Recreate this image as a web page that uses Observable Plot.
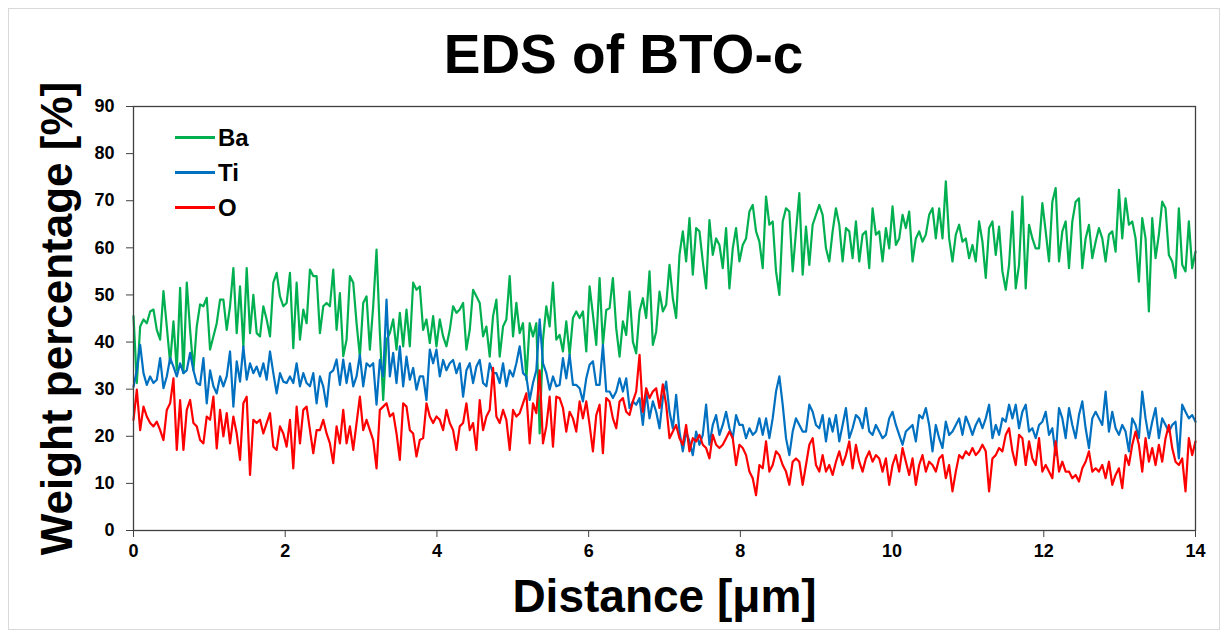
<!DOCTYPE html>
<html><head><meta charset="utf-8">
<script src="https://cdn.jsdelivr.net/npm/d3@7"></script>
<script src="https://cdn.jsdelivr.net/npm/@observablehq/plot@0.6"></script>
<style>
html,body{margin:0;padding:0;background:#fff;}
#wrap{position:relative;width:1228px;height:638px;overflow:hidden;font-family:"Liberation Sans",Arial,sans-serif;}
#border{position:absolute;left:8px;top:8px;width:1212px;height:622px;border:1px solid #d9d9d9;box-sizing:border-box;}
#chart{position:absolute;left:0;top:0;}
#legend{position:absolute;left:175px;top:120px;}
.item{display:flex;align-items:center;height:35px;font-weight:bold;font-size:24px;color:#000;}
.swatch{width:40px;height:2.4px;margin-right:3px;}
</style></head><body>
<div id="wrap"><div id="border"></div><div id="chart"></div><div id="legend"></div></div>
<script>
const title = "EDS of BTO-c";
const xTitle = "Distance [μm]";
const yTitle = "Weight percentage [%]";
const xTicks = [0, 2, 4, 6, 8, 10, 12, 14];
const yTicks = [0, 10, 20, 30, 40, 50, 60, 70, 80, 90];
const elements = ["Ba", "Ti", "O"];
const colors = ["#00b050", "#0070c0", "#ff0000"];
const xMax = 14;

const baValues = [
45.5,31.3,43.3,44.8,44,46.5,46.9,42.6,40.5,50.8,43.3,35.5,44.4,34,51.5,33.4,52.6,42.6,34,43.3,48,47.6,49.4,38.4,41.2,44,49,49,42.6,47.6,55.7,41.9,51.8,39,55.7,41.9,50,41.9,41.2,47.6,44.8,41.2,52.6,54.7,49.7,47.6,48.3,54.7,38.7,52.6,40.5,46.9,44,55.4,54,54,41.9,47.6,48.3,47.6,55.4,42.6,50.4,37,
40.5,54,52.6,44,36.9,48.3,49.7,38.4,47.6,59.6,41.9,27.7,40.5,41.9,44.8,38.4,46.2,39.1,46.9,39.1,52.6,51.1,51.8,42.6,44.8,39.8,45.5,39.1,44.8,41.2,39.1,42.6,47.6,46.2,46.9,48.3,38.4,42.6,51.1,49.7,48.3,41.2,43.3,36.9,45.5,49,36.9,43.3,44.8,54,41.2,48.3,41.9,44,32,44,41.2,44,20.6,40.5,47.6,43.3,52.6,40.5,
41.5,38,44.4,37.3,45.1,46.5,45.1,46.5,38,51.8,45.8,39.4,53.6,39.4,46.8,47.2,53.6,42.9,36.9,44.4,41.5,50.7,40.1,37.6,46.5,49.3,45.1,55,39.4,42.2,50.7,46.5,47.9,56.4,49.3,45.1,58.5,63.5,57.1,66.3,54.3,64.2,63.5,57.1,51.4,65.9,58.5,62,60.6,55.7,64.2,51.4,59.9,64.2,57.1,60.6,62,67.7,69.1,63.5,61.3,55.7,70.9,64.9,
65.6,55,50,65.6,68.4,67.7,55,63.5,71.6,54.3,64.5,56.4,64.9,67,69.1,67,59.9,57.1,63.5,68.4,64.9,57.1,64.2,63.5,57.8,65.6,57.1,62.8,63.5,55.7,68.4,62.8,63.5,57.1,64.2,59.9,68.8,60.6,62,67,64.2,67.7,57.1,62,63.5,61.3,62.8,67,68.4,62,68.4,62,74.1,62,57.1,62.8,64.9,61.3,62,57.8,60.6,57.1,65.6,61.3,
53.6,64.2,65.6,58.5,64.5,55,51.1,56.4,67.7,51.4,56.4,70.9,51.4,64.9,62,59.9,59.9,69.5,63.5,57.1,69.8,72.7,57.1,63.5,65.6,55.7,65.6,69.8,70.5,55.7,62,64.9,57.8,61.3,64.2,62,57.1,62.8,63.5,59.2,72.3,62,70.5,64.9,65.6,62,52.8,66.3,62,46.5,66.3,57.8,62.8,69.8,68.4,58.5,57.1,53.6,68.4,56.4,55,65.6,55.7,59.2
];

const tiValues = [
30.5,34,39.4,33.4,30.9,32.7,31.3,32,36.6,30.2,32.7,36.6,34.8,32.7,35.5,33.4,34,37.7,34,31.3,30.9,36.6,27,34,30.6,29.1,32.7,30.6,32.7,38,26.3,35.9,31.6,39.1,32,35.5,33.4,34.8,32.7,35.5,32,38,33.4,29.1,33.4,31.6,31.3,32.7,31.3,35.5,30.6,33.4,31.3,30.6,33.4,27,32.7,30.6,26.3,33.4,34,36.3,30.9,36.3,
31.3,35.5,30.6,32.7,37.3,30.6,35.5,34.8,35.5,26.7,36.2,32.7,49,32.7,37.7,31.3,39.1,30.6,36.9,32,34.5,29.9,32.7,32.7,27.7,38.4,35.5,38.4,32.7,36.2,34,35.5,36.2,33.4,35.5,28.4,34,35.5,31.3,34.8,36.2,31.3,30.6,35.5,33.4,33.4,31.3,35.5,30.6,34,32.7,35.5,39.1,33.4,32.7,27.7,31.3,34,44.8,35.5,33.4,29.9,32.7,30.6,
30.9,36.6,32.3,37.3,30.9,30.9,30.2,27.4,32.3,35.2,35.9,30.9,30.9,39.4,29.5,29.5,28.1,29.5,32.3,29.5,32.3,26,27.4,26.7,28.1,22.4,29.5,23.8,27.4,25.2,21.7,28.1,31.6,25.2,21.7,28.8,21,16.8,21,18.9,16,21,18.2,20.3,26.7,18.2,22.4,24.5,20.3,22.4,25.2,21.7,19.6,24.5,22.4,22.4,19.6,21.7,20.3,21,23.8,20.3,23.8,19.6,
23.8,29.5,32.7,26.7,19.6,16,21,23.8,22.4,21,21,26.7,25.2,22.4,21.7,24.5,18.9,23.8,21,24.5,18.9,22.4,26,19.6,21.7,24.5,23.8,21.7,26,21,20.3,22.4,21,19.6,20.3,23.8,25.2,22.4,20.3,18.2,21,21.7,22.4,18.9,24.5,23.8,26,22.4,16.8,22.4,19.6,17.5,23.1,20.3,21,22.4,23.8,20.3,24.2,22.4,20.3,22.4,23.8,21.7,
23.8,26.7,19.6,22.4,20.3,23.8,23.1,26.7,23.8,26.7,21.7,25.2,26.7,21,21.7,19.6,22.4,23.1,25.2,20.3,21.7,16,26,23.8,19.6,26,22.4,19.6,24.5,27.4,21.7,17.5,23.8,25.2,23.8,22.4,29.5,21,25.2,21.7,20.3,22.4,21,16.8,23.8,22.4,19.6,29.5,23.8,19.6,23.1,26,19.6,23.8,22.4,21,22.4,23.1,15.3,26.7,25.2,23.8,24.5,23.1
];

const oValues = [
23.5,29.9,21.3,26.3,24.2,22.8,22.1,23.1,21.3,19.2,25.6,27,32.3,17.1,27.7,17.1,25.6,27.7,22.8,22.1,19.2,18.5,24.2,23.5,28.4,17.4,25.6,20,24.9,18.5,24.2,20.6,15,27,28.4,11.8,23.5,22.8,23.5,20.6,22.8,24.9,17.8,17.1,22.1,20.6,17.8,23.5,13.2,26.3,18.5,25.6,26.3,21.3,16.4,21.3,21.3,23.5,20.6,18.5,14.3,22.1,18.5,25.6,
18.5,22.1,17.1,22.8,28.4,21.3,23.5,21.3,19.2,13.2,25.6,26.3,27,24.2,24.9,20.6,15,27,26.3,21.3,20.6,15.7,19.2,19.6,27,24.2,22.8,24.2,23.5,21.3,25.6,22.8,21.3,17.1,22.1,22.8,27,21.3,22.8,17.1,27.7,21.3,24.2,25.6,34.5,24.2,22.8,25.6,23.5,17.1,25.6,24.2,24.9,27,29.1,18.5,27,24.9,34,18.5,22.1,28.4,17.8,28.4,
28.1,26,21,25.2,23.8,21,27.4,23.8,27.4,22.4,16.8,24.5,26.7,16.4,28.1,27.4,23.8,21.7,27.4,28.1,25.2,24.5,27.4,29.5,37.3,25.2,30.2,28.1,29.5,30.2,26,31,26.7,19.6,21,22.4,19.6,18.2,22.4,16.8,19.6,18.9,20.3,18.2,17.5,15.3,20.3,18.2,17.5,18.2,19.6,21,19.6,13.9,18.2,17.5,16,12.5,11.1,7.5,13.9,13.2,18.9,12.5,
13.9,16.8,16,13.9,12.5,9.7,14.6,15.3,14.6,9.7,13.9,18.2,19.6,13.9,12.5,16,12.5,13.9,11.8,14.6,16.8,13.9,16,18.9,13.2,18.2,14.6,12.5,15.3,16.8,14.6,16,15.3,12.5,15.3,9.7,13.9,16,12.5,17.5,14.6,11.8,15.3,9.7,13.9,16,12.5,14.6,13.9,12.5,15.3,16,11.1,13.9,8.3,12.5,16,15.3,16.8,16,17.5,16,16.8,18.2,
16.8,8.3,15.3,16,17.5,16.8,20.3,21.7,16.8,13.9,20.3,19.6,13.9,18.9,15.3,13.9,19.6,12.5,13.9,12.5,11.1,18.9,12.5,14.6,12.5,12.5,11.1,11.8,10.4,13.2,14.6,16.8,12.5,13.2,12.5,13.9,11.1,14.6,9.7,11.8,13.2,9,16,13.9,18.2,21,18.2,12.5,19.6,14.6,17.5,13.9,18.2,14.6,19.6,22.4,17.5,14.6,13.9,15.3,8.3,19.6,16,18.9
];

const seriesValues = [baValues, tiValues, oValues];
const rows = (vals, el) => {
  const step = xMax / (vals.length - 1);
  return vals.map((v, i) => ({distance: i * step, value: v, element: el}));
};
const font = '"Liberation Sans", Arial, sans-serif';

const chart = Plot.plot({
  width: 1228, height: 638,
  marginLeft: 133, marginRight: 33, marginTop: 106, marginBottom: 108,
  style: {fontFamily: font, fontWeight: "bold", color: "#000", background: "transparent", overflow: "visible"},
  x: {domain: [0, xMax]},
  y: {domain: [0, 90]},
  marks: [
    ...elements.map((el, k) => Plot.line(rows(seriesValues[k], el), {x: "distance", y: "value", stroke: colors[k], strokeWidth: 2.2, strokeLinejoin: "round"})),
    Plot.frame({stroke: "#404040", strokeWidth: 1.3}),
    Plot.axisX({ticks: xTicks, tickSize: 7, tickPadding: 7, fontSize: 18, label: null, stroke: "#404040", tickFormat: d => String(d)}),
    Plot.axisY({ticks: yTicks, tickSize: 7, tickPadding: 12, fontSize: 18, label: null, stroke: "#404040", tickFormat: d => String(d)}),
    Plot.text([title], {text: d => d, frameAnchor: "top", dx: -41, dy: -51, fontSize: 55, fontWeight: "bold", fill: "#000", textAnchor: "middle", lineAnchor: "middle"}),
    Plot.text([yTitle], {text: d => d, frameAnchor: "left", dx: -76, rotate: -90, fontSize: 44, fontWeight: "bold", fill: "#000", textAnchor: "middle", lineAnchor: "middle"}),
    Plot.text([xTitle], {text: d => d, frameAnchor: "bottom", dy: 67, fontSize: 46, fontWeight: "bold", fill: "#000", textAnchor: "middle", lineAnchor: "middle"})
  ]
});
document.getElementById("chart").appendChild(chart);

const legend = document.getElementById("legend");
elements.forEach((el, k) => {
  const item = document.createElement("div");
  item.className = "item";
  const sw = document.createElement("span");
  sw.className = "swatch";
  sw.style.background = colors[k];
  const label = document.createElement("span");
  label.textContent = el;
  item.appendChild(sw);
  item.appendChild(label);
  legend.appendChild(item);
});
</script>
</body></html>
